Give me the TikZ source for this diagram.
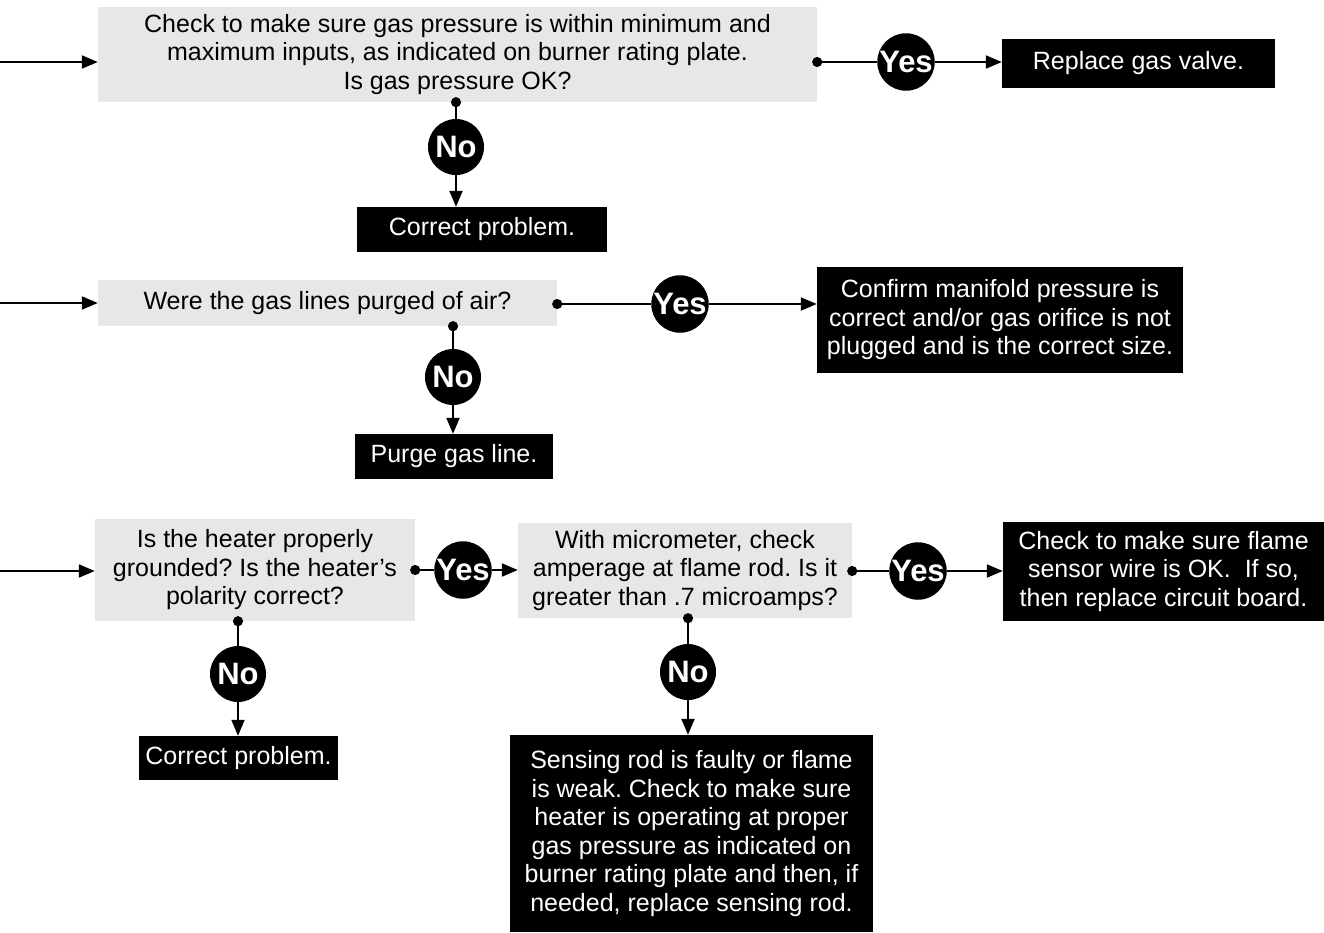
\documentclass[tikz,border=0pt]{standalone}
\usepackage{fontspec}
\setmainfont{Liberation Sans}
\usetikzlibrary{arrows.meta, positioning}
\definecolor{askgray}{HTML}{E6E7E8}
\frenchspacing

\begin{document}
\begin{tikzpicture}[
  x=1pt, y=-1pt,
  font=\fontsize{25}{28.5}\selectfont,
  ask/.style={rectangle, fill=askgray, inner sep=0pt, align=center},
  act/.style={rectangle, fill=black, text=white, inner sep=0pt, align=center},
  yn/.style={circle, fill=black, text=white, inner sep=0pt, minimum size=56pt, font=\fontsize{31}{31}\selectfont\bfseries},
  arrow/.style={-{Triangle[length=16pt, width=13pt]}, line width=2pt},
  link/.style={{Circle[length=10pt]}-, line width=2pt, shorten <=-5pt}
]
\useasboundingbox (0,0) rectangle (1324,932);

% row 1
\node[ask, minimum width=719pt, minimum height=95pt] (gas) at (457.5,54.5) {Check to make sure gas pressure is within minimum and\\maximum inputs, as indicated on burner rating plate.\\Is gas pressure OK?};
\node[yn] (yes1) at (906,62) {Yes};
\node[act, minimum width=273pt, minimum height=49pt] (valve) at (1138.5,63.5) {Replace gas valve.};
\node[yn] (no1) at (456,147) {No};
\node[act, minimum width=250pt, minimum height=45pt] (fix1) at (482,229.5) {Correct problem.};

% row 2
\node[ask, minimum width=459pt, minimum height=46pt] (purged) at (327.5,303) {Were the gas lines purged of air?};
\node[yn] (yes2) at (680,304) {Yes};
\node[act, minimum width=366pt, minimum height=106pt] (confirm) at (1000,320) {Confirm manifold pressure is\\correct and/or gas orifice is not\\plugged and is the correct size.};
\node[yn] (no2) at (453,377) {No};
\node[act, minimum width=198pt, minimum height=45pt] (purge) at (454,456.5) {Purge gas line.};

% row 3
\node[ask, minimum width=320pt, minimum height=102pt] (ground) at (255,570) {Is the heater properly\\grounded? Is the heater’s\\polarity correct?};
\node[yn] (yes3) at (463,570) {Yes};
\node[ask, minimum width=334pt, minimum height=95pt] (amps) at (685,570.5) {With micrometer, check\\amperage at flame rod. Is it\\greater than .7 microamps?};
\node[yn] (yes4) at (918,571) {Yes};
\node[act, minimum width=321pt, minimum height=99pt] (board) at (1163.5,571.5) {Check to make sure flame\\sensor wire is OK.\ \ If so,\\then replace circuit board.};
\node[yn] (no3) at (238,674) {No};
\node[act, minimum width=199pt, minimum height=44pt] (fix3) at (238.5,758) {Correct problem.};
\node[yn] (no4) at (688,672) {No};
\node[act, minimum width=363pt, minimum height=197pt] (rod) at (691.5,833.5) {Sensing rod is faulty or flame\\is weak. Check to make sure\\heater is operating at proper\\gas pressure as indicated on\\burner rating plate and then, if\\needed, replace sensing rod.};

% entries
\coordinate (in1) at (0,62);
\coordinate (in2) at (0,303);
\coordinate (in3) at (0,571);
\draw[arrow] (in1) -- (in1 -| gas.west);
\draw[arrow] (in2) -- (in2 -| purged.west);
\draw[arrow] (in3) -- (in3 -| ground.west);

% yes branches
\draw[link] (gas.east |- yes1) -- (yes1);
\draw[arrow] (yes1) -- (yes1 -| valve.west);
\draw[link] (purged.east |- yes2) -- (yes2);
\draw[arrow] (yes2) -- (yes2 -| confirm.west);
\draw[link] (ground.east |- yes3) -- (yes3);
\draw[arrow] (yes3) -- (yes3 -| amps.west);
\draw[link] (amps.east |- yes4) -- (yes4);
\draw[arrow] (yes4) -- (yes4 -| board.west);

% no branches
\draw[link] (no1 |- gas.south) -- (no1);
\draw[arrow] (no1) -- (no1 |- fix1.north);
\draw[link] (no2 |- purged.south) -- (no2);
\draw[arrow] (no2) -- (no2 |- purge.north);
\draw[link] (no3 |- ground.south) -- (no3);
\draw[arrow] (no3) -- (no3 |- fix3.north);
\draw[link] (no4 |- amps.south) -- (no4);
\draw[arrow] (no4) -- (no4 |- rod.north);

\end{tikzpicture}
\end{document}
